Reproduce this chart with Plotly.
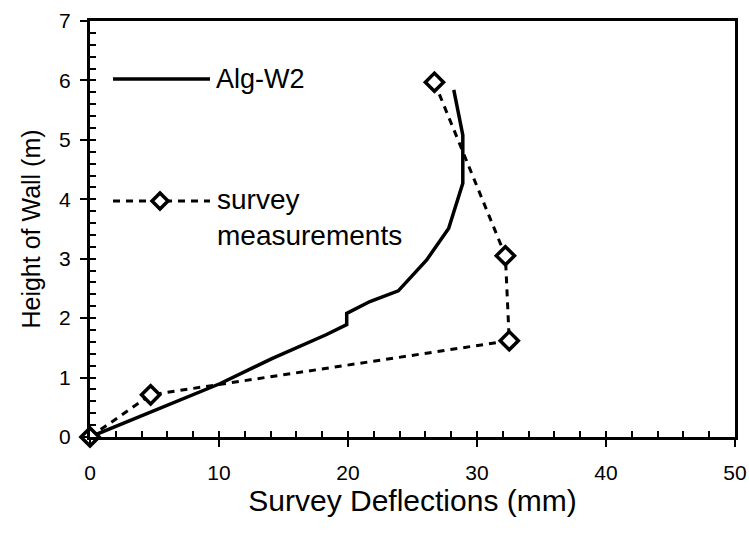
import plotly.graph_objects as go

# ---- data ----
alg_x = [0, 10.1, 14.1, 18.3, 19.9, 19.9, 21.7, 23.9, 26.1, 27.8, 28.9, 28.9, 28.2]
alg_y = [0, 0.90, 1.32, 1.72, 1.89, 2.08, 2.28, 2.46, 2.98, 3.51, 4.27, 5.08, 5.84]

survey_x = [0, 4.7, 32.5, 32.2, 26.7]
survey_y = [0, 0.71, 1.62, 3.05, 5.97]

x_range = [0, 50]
y_range = [0, 7]
x_title = "Survey Deflections (mm)"
y_title = "Height of Wall (m)"
alg_name = "Alg-W2"
survey_name = "survey<br>measurements"

FONT = "Liberation Sans, Arial, sans-serif"
W, H = 749, 537
ML, MR, MT, MB = 90, 14, 21, 100
PW, PH = W - ML - MR, H - MT - MB
DASH = "7px,6px"


def px_to_paper(px, py):
    return (px - ML) / PW, (H - MB - py) / PH


fig = go.Figure()
fig.add_trace(go.Scatter(
    x=alg_x, y=alg_y, mode="lines", name="Alg-W2",
    line=dict(color="black", width=3.5), showlegend=False,
))
fig.add_trace(go.Scatter(
    x=survey_x, y=survey_y, mode="lines+markers", name="survey measurements",
    line=dict(color="black", width=3, dash=DASH),
    marker=dict(symbol="diamond", size=14, color="white",
                line=dict(color="black", width=3.5)),
    cliponaxis=False, showlegend=False,
))

axis_common = dict(showgrid=False, zeroline=False, color="black", automargin=False)

fig.update_layout(
    width=W, height=H,
    margin=dict(l=ML, r=MR, t=MT, b=MB, autoexpand=False),
    paper_bgcolor="white", plot_bgcolor="white",
    font=dict(family=FONT, color="black"),
    xaxis=dict(
        range=x_range, dtick=10, ticks="outside", ticklen=7, tickwidth=1.5,
        showline=True, linewidth=3, linecolor="black", mirror=True,
        tickfont=dict(size=21), ticklabelstandoff=8,
        title=dict(text=x_title, font=dict(size=30), standoff=0),
        **axis_common,
    ),
    yaxis=dict(
        range=y_range, dtick=1, ticks="outside", ticklen=7, tickwidth=1.5,
        showline=True, linewidth=3, linecolor="black", mirror=True,
        tickfont=dict(size=21), ticklabelstandoff=5,
        title=dict(text=y_title, font=dict(size=25), standoff=12),
        **axis_common,
    ),
    xaxis2=dict(
        range=x_range, overlaying="x", anchor="y", side="bottom", mirror=False,
        dtick=2, ticks="inside", ticklen=6, tickwidth=1.5, tickcolor="black",
        showticklabels=False, showline=False, **axis_common,
    ),
    yaxis2=dict(
        range=y_range, overlaying="y", anchor="x", side="left", mirror=False,
        dtick=0.2, ticks="inside", ticklen=6, tickwidth=1.5, tickcolor="black",
        showticklabels=False, showline=False, **axis_common,
    ),
)

# invisible helper trace so the overlay tick axes are drawn
fig.add_trace(go.Scatter(x=[None], y=[None], xaxis="x2", yaxis="y2",
                         showlegend=False, hoverinfo="skip"))

# ---- manual legend ----
lx0, ly1 = px_to_paper(113, 79)
lx1, _ = px_to_paper(210, 79)
fig.add_shape(type="line", xref="paper", yref="paper", x0=lx0, x1=lx1, y0=ly1, y1=ly1,
              line=dict(color="black", width=3.5))
tx, _ = px_to_paper(214, 79)
fig.add_annotation(xref="paper", yref="paper", x=tx, y=ly1, text=alg_name,
                   showarrow=False, xanchor="left", yanchor="middle",
                   font=dict(size=27, family=FONT, color="black"))

_, ly2 = px_to_paper(113, 201)
fig.add_shape(type="line", xref="paper", yref="paper", x0=lx0, x1=lx1, y0=ly2, y1=ly2,
              line=dict(color="black", width=3, dash=DASH))
cx, cy = px_to_paper(160, 201)
dx, dy = 8 / PW, 8 / PH
fig.add_shape(type="path", xref="paper", yref="paper",
              path=f"M {cx-dx} {cy} L {cx} {cy+dy} L {cx+dx} {cy} L {cx} {cy-dy} Z",
              fillcolor="white", line=dict(color="black", width=3.5))
tx2, ty2 = px_to_paper(215, 217)
fig.add_annotation(xref="paper", yref="paper", x=tx2, y=ty2, text=survey_name,
                   showarrow=False, xanchor="left", yanchor="middle", align="left",
                   font=dict(size=28, family=FONT, color="black"))

fig.write_html("out.html")
